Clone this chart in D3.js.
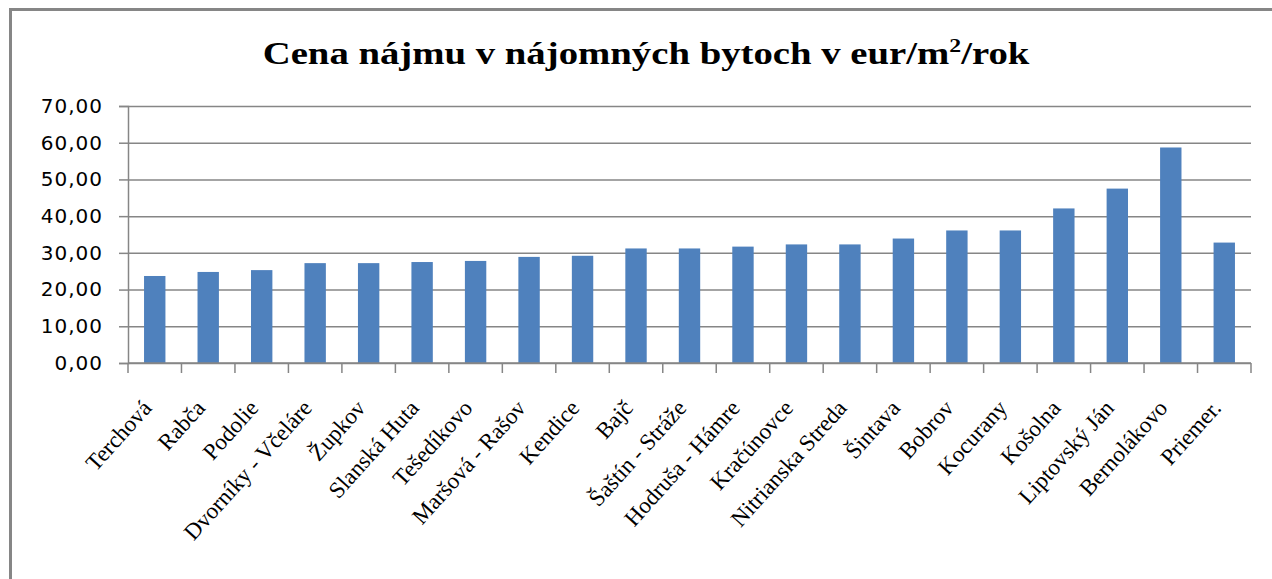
<!DOCTYPE html>
<html>
<head>
<meta charset="utf-8">
<script src="https://cdn.jsdelivr.net/npm/d3@7"></script>
<style>
  body { margin: 0; background: #fff; }
  svg { display: block; }
</style>
</head>
<body>
<div id="chart"></div>
<script>
// data
const obce = ["Terchová", "Rabča", "Podolie", "Dvorníky - Včeláre", "Župkov", "Slanská Huta",
  "Tešedíkovo", "Maršová - Rašov", "Kendice", "Bajč", "Šaštín - Stráže", "Hodruša - Hámre",
  "Kračúnovce", "Nitrianska Streda", "Šintava", "Bobrov", "Kocurany", "Košolna",
  "Liptovský Ján", "Bernolákovo", "Priemer."];
const cena = [23.7, 24.8, 25.3, 27.2, 27.2, 27.5, 27.8, 28.9, 29.2, 31.2, 31.2, 31.7,
  32.3, 32.3, 33.9, 36.1, 36.1, 42.1, 47.5, 58.7, 32.8];
const yTicks = [0, 10, 20, 30, 40, 50, 60, 70];

const width = 1272, height = 579;
const margin = {top: 106, right: 21, bottom: 216, left: 128};
const plotW = width - margin.left - margin.right;
const plotH = height - margin.top - margin.bottom;
const gray = '#868686';

const data = obce.map((o, i) => ({obec: o, cena: cena[i]}));

const svg = d3.select('#chart').append('svg')
    .attr('width', width)
    .attr('height', height);

// ramik okolo grafu
svg.append('rect')
    .attr('x', 10.5).attr('y', 9.5)
    .attr('width', 1400).attr('height', 700)
    .attr('fill', 'none')
    .attr('stroke', gray)
    .attr('stroke-width', 3);

// nadpis - v povodnom obrazku je roztiahnuty do sirky
const title = svg.append('text')
    .attr('text-anchor', 'middle')
    .attr('font-family', 'Liberation Serif, Times New Roman, serif')
    .attr('font-weight', 'bold')
    .attr('font-size', '31px')
    .attr('fill', '#000');
title.append('tspan').text('Cena nájmu v nájomných bytoch v eur/m');
title.append('tspan').attr('font-size', '19px').attr('dy', -12).text('2');
title.append('tspan').attr('dy', 12).text('/rok');
const tw = title.node().getBBox().width;
title.attr('transform', `translate(646,64) scale(${768 / tw},1)`);

const g = svg.append('g')
    .attr('transform', `translate(${margin.left},${margin.top})`);

const x = d3.scaleBand()
    .domain(obce)
    .range([0, plotW])
    .paddingInner(0.6)
    .paddingOuter(0.3);

const y = d3.scaleLinear()
    .domain([0, 70])
    .range([plotH, 0]);

// mriezka
g.append('g')
    .call(d3.axisLeft(y).tickValues(yTicks).tickSize(-plotW).tickFormat(''))
    .call(a => a.select('.domain').remove())
    .selectAll('line')
    .attr('stroke', gray)
    .attr('stroke-width', 1.5);

// os y
g.append('g')
    .call(d3.axisLeft(y).tickValues(yTicks).tickSize(9).tickPadding(16)
        .tickFormat(d => d3.format('.2f')(d).replace('.', ',')))
    .call(a => a.select('.domain').attr('stroke', gray).attr('stroke-width', 1.5))
    .call(a => a.selectAll('line').attr('stroke', gray).attr('stroke-width', 1.5))
    .selectAll('text')
    .attr('font-family', 'DejaVu Sans, Verdana, sans-serif')
    .attr('font-size', '20px')
    .attr('letter-spacing', '1px')
    .attr('fill', '#000');

// stlpce
g.selectAll('rect.bar')
    .data(data)
    .join('rect')
    .attr('class', 'bar')
    .attr('x', d => x(d.obec))
    .attr('y', d => y(d.cena))
    .attr('width', x.bandwidth())
    .attr('height', d => plotH - y(d.cena))
    .attr('fill', '#4f81bd');

// os x
g.append('line')
    .attr('x1', 0).attr('x2', plotW)
    .attr('y1', plotH).attr('y2', plotH)
    .attr('stroke', gray).attr('stroke-width', 1.5);

const hranice = obce.map(o => x(o) - x.step() * 0.3).concat([plotW]);
g.selectAll('line.xtick')
    .data(hranice)
    .join('line')
    .attr('class', 'xtick')
    .attr('x1', d => d).attr('x2', d => d)
    .attr('y1', plotH).attr('y2', plotH + 10)
    .attr('stroke', gray).attr('stroke-width', 1.5);

g.selectAll('text.xlab')
    .data(data)
    .join('text')
    .attr('class', 'xlab')
    .attr('transform', d => `translate(${x(d.obec) + x.bandwidth() / 2 - 2},${plotH + 46}) rotate(-48)`)
    .attr('text-anchor', 'end')
    .attr('font-family', 'Liberation Serif, Times New Roman, serif')
    .attr('font-size', '23px')
    .attr('fill', '#000')
    .text(d => d.obec);
</script>
</body>
</html>
